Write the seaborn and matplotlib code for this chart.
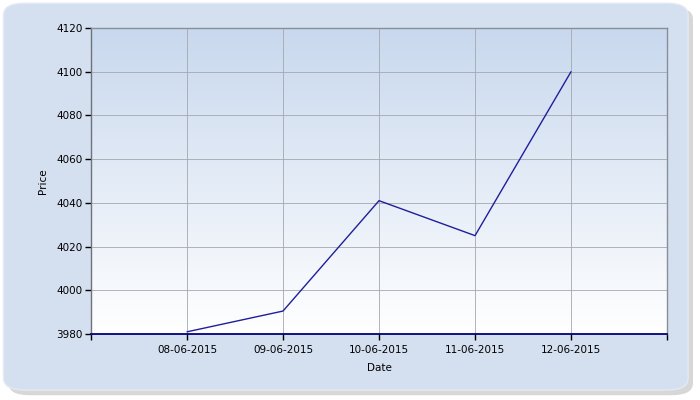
import matplotlib
matplotlib.use("Agg")
import matplotlib.pyplot as plt
import matplotlib.dates as mdates
from matplotlib.patches import FancyBboxPatch
import seaborn as sns
import pandas as pd
import numpy as np

# datos
fechas = ["2015-06-08", "2015-06-09", "2015-06-10", "2015-06-11", "2015-06-12"]
precios = [3981, 3990.5, 4041, 4025, 4100]

datos = pd.DataFrame({"Date": pd.to_datetime(fechas), "Price": precios})

sns.set_style("white")
plt.rcParams["font.family"] = ["DejaVu Sans"]

fig = plt.figure(figsize=(7, 4), dpi=100)
fig.patch.set_facecolor("white")

# fondo redondeado con sombra
sombra = FancyBboxPatch((0.012, 0.012), 0.978, 0.97,
                        boxstyle="round,pad=0,rounding_size=0.03",
                        transform=fig.transFigure, facecolor="#b0b0b0",
                        edgecolor="none", alpha=0.5, zorder=-2)
fondo = FancyBboxPatch((0.005, 0.025), 0.978, 0.967,
                       boxstyle="round,pad=0,rounding_size=0.03",
                       transform=fig.transFigure, facecolor="#d4dff0",
                       edgecolor="#e4eaf4", linewidth=1, zorder=-1)
fig.patches.extend([sombra, fondo])

ax = fig.add_axes([0.13, 0.165, 0.8229, 0.765])
ax.set_facecolor("none")
ax.set_zorder(1)

sns.lineplot(data=datos, x="Date", y="Price", ax=ax, color="#1f1f9a",
             linewidth=1, zorder=3)

x0 = pd.Timestamp("2015-06-07")
x1 = pd.Timestamp("2015-06-13")

# degradado vertical del area de dibujo
grad = np.linspace(0, 1, 256).reshape(-1, 1)
cmap = matplotlib.colors.LinearSegmentedColormap.from_list("g", ["#ffffff", "#c8d8ee"])
ax.imshow(grad, aspect="auto", cmap=cmap, origin="lower",
          extent=[mdates.date2num(x0), mdates.date2num(x1), 3980, 4120], zorder=0)

ax.set_xlim(x0, x1)
ax.set_ylim(3980, 4120)

ax.set_yticks(np.arange(3980, 4121, 20))
ticks = pd.date_range("2015-06-07", "2015-06-13", freq="D")
ax.set_xticks(ticks)
ax.set_xticklabels([""] + [t.strftime("%d-%m-%Y") for t in ticks[1:-1]] + [""])

ax.grid(True, color="#a4a7ae", linewidth=0.6)
for l in ax.get_xgridlines() + ax.get_ygridlines():
    l.set_zorder(1)

ax.tick_params(axis="both", direction="out", length=4, width=1, color="black",
               labelsize=7.5, labelcolor="black", pad=2, bottom=True, left=True)
ax.tick_params(axis="x", pad=4)

for s in ["top", "right"]:
    ax.spines[s].set_color("#8a8e96")
    ax.spines[s].set_linewidth(1)
ax.spines["left"].set_color("#6e727a")
ax.spines["left"].set_linewidth(1)
ax.spines["bottom"].set_color("#00007a")
ax.spines["bottom"].set_linewidth(1.3)

ax.set_xlabel("Date", fontsize=7.5, labelpad=6, color="black")
ax.set_ylabel("Price", fontsize=7.5, labelpad=6, color="black")

fig.savefig("out.png", dpi=100)
